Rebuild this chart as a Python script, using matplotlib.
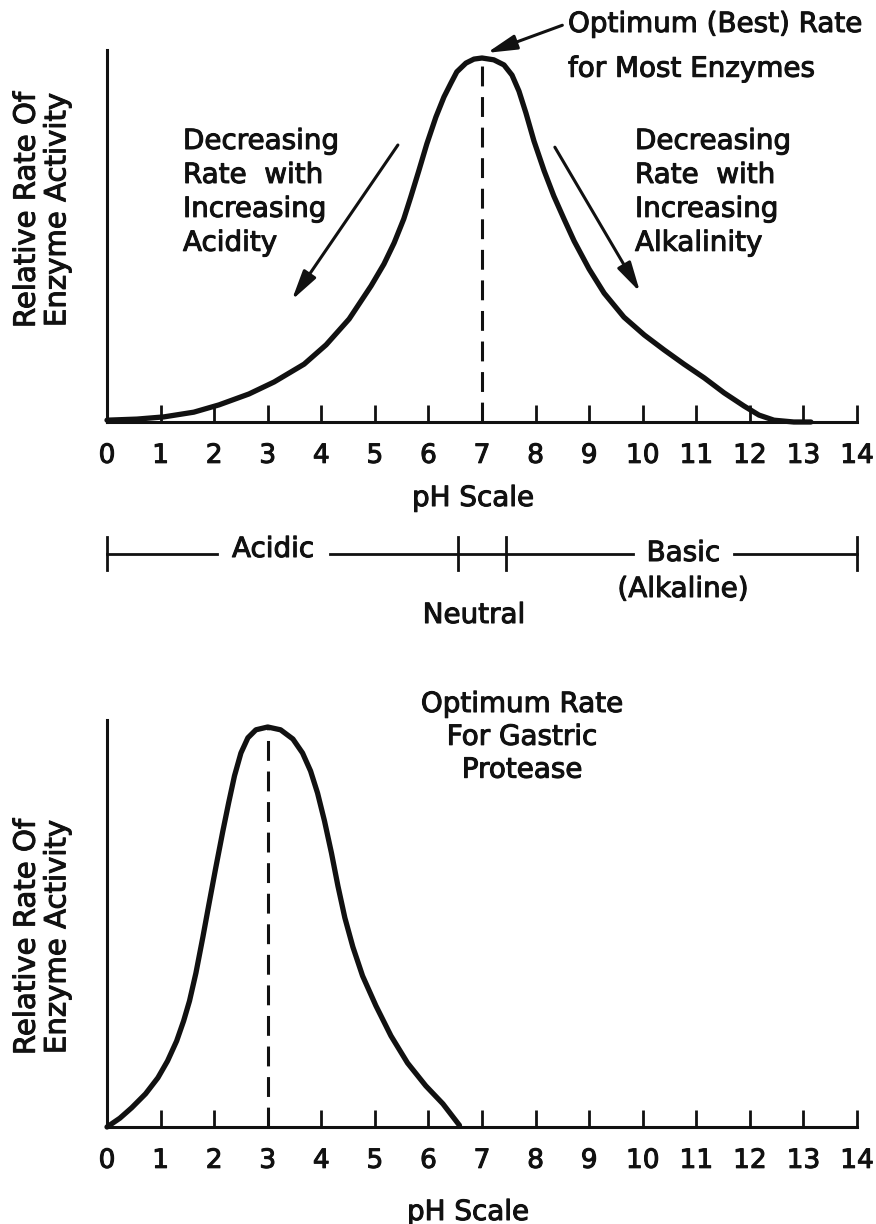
import matplotlib
matplotlib.use("Agg")
import matplotlib.pyplot as plt
import matplotlib.patheffects as pe
from matplotlib.transforms import blended_transform_factory

plt.rcParams["font.family"] = ["DejaVu Sans"]

# Activity of a typical enzyme across the pH scale (1.0 = optimum rate)
general_ph = [0.0, 0.56, 1.06, 1.62, 2.09, 2.65, 3.12, 3.68, 4.09, 4.52,
              4.93, 5.17, 5.36, 5.54, 5.67, 5.82, 5.97, 6.14, 6.29, 6.42,
              6.53, 6.70, 6.85, 7.0, 7.22, 7.41, 7.56, 7.69, 7.82, 7.97,
              8.16, 8.34, 8.53, 8.72, 9.0, 9.28, 9.65, 10.03, 10.4, 10.77,
              11.15, 11.52, 11.89, 12.17, 12.45, 12.82, 13.14]
general_rate = [0.005, 0.008, 0.014, 0.027, 0.047, 0.077, 0.110, 0.159, 0.212, 0.283,
                0.374, 0.434, 0.492, 0.558, 0.618, 0.690, 0.764, 0.838, 0.893, 0.931,
                0.962, 0.986, 0.997, 1.0, 0.995, 0.981, 0.953, 0.909, 0.849, 0.772,
                0.690, 0.621, 0.558, 0.497, 0.420, 0.354, 0.288, 0.239, 0.198, 0.159,
                0.121, 0.080, 0.044, 0.019, 0.005, 0.0, 0.0]
general_optimum = 7.0

# Activity of gastric protease across the pH scale
gastric_ph = [0.0, 0.24, 0.46, 0.72, 0.95, 1.13, 1.30, 1.43, 1.54, 1.66,
              1.79, 1.90, 2.03, 2.16, 2.27, 2.38, 2.50, 2.63, 2.78, 3.0,
              3.24, 3.47, 3.65, 3.80, 3.93, 4.06, 4.19, 4.31, 4.44, 4.59,
              4.77, 5.02, 5.30, 5.61, 5.95, 6.27, 6.58]
gastric_rate = [0.0, 0.022, 0.048, 0.083, 0.123, 0.165, 0.215, 0.265, 0.315, 0.385,
                0.475, 0.555, 0.648, 0.738, 0.810, 0.878, 0.935, 0.973, 0.993, 1.0,
                0.993, 0.970, 0.935, 0.890, 0.835, 0.765, 0.685, 0.603, 0.523, 0.450,
                0.378, 0.303, 0.228, 0.160, 0.103, 0.058, 0.004]
gastric_optimum = 3.0

ph_ticks = list(range(0, 15))
acid_limit = 6.55      # upper end of the acidic range
base_limit = 7.45      # lower end of the basic range

W, H = 876, 1224
fig = plt.figure(figsize=(W / 100, H / 100), dpi=100, facecolor="white")


def fx(px):
    return px / W


def fy(py):
    return 1 - py / H


INK = "#111111"
FS = 20
HEAVY = [pe.withStroke(linewidth=0.75, foreground=INK)]
TXT = dict(color=INK, fontsize=FS, path_effects=HEAVY)


def style_axes(ax):
    for side in ("top", "right"):
        ax.spines[side].set_visible(False)
    for side in ("left", "bottom"):
        ax.spines[side].set_linewidth(2.2)
        ax.spines[side].set_color(INK)
    ax.set_xlim(0, 14)
    ax.set_xticks(ph_ticks)
    ax.set_yticks([])
    ax.tick_params(axis="x", direction="in", length=12, width=2.0, colors=INK,
                   labelsize=19, pad=15)
    for lbl in ax.get_xticklabels():
        lbl.set_path_effects(HEAVY)
    ax.set_facecolor("none")


curve_kw = dict(color=INK, lw=3.8, solid_capstyle="round", solid_joinstyle="round",
                clip_on=False, zorder=3)
dash_kw = dict(color=INK, lw=2.2, ls=(0, (6.5, 3.5)), clip_on=False)

# ---------- upper panel: typical enzyme ----------
ax1 = fig.add_axes([fx(107), fy(422), fx(750), 372 / H])
style_axes(ax1)
ax1.set_ylim(0, 372 / 364)
ax1.plot(general_ph, general_rate, **curve_kw)
peak1 = general_rate[general_ph.index(general_optimum)]
ax1.plot([general_optimum, general_optimum], [0, peak1], **dash_kw)

fig.text(fx(473), fy(498), "pH Scale", ha="center", va="center", **TXT)
fig.text(fx(42), fy(210), "Relative Rate Of\nEnzyme Activity", rotation=90,
         ha="center", va="center", multialignment="center", linespacing=1.12,
         color=INK, fontsize=21, path_effects=HEAVY)

arrow_kw = dict(arrowstyle="-|>,head_length=1.8,head_width=0.45", color=INK, lw=2.2,
                mutation_scale=10, shrinkA=0, shrinkB=0)
ax1.annotate("", xy=(3.45, 0.335), xytext=(5.43, 0.761), arrowprops=arrow_kw,
             annotation_clip=False)
ax1.annotate("", xy=(9.95, 0.357), xytext=(8.36, 0.755), arrowprops=arrow_kw,
             annotation_clip=False)
ax1.annotate("", xy=(7.09, 1.014), xytext=(8.5, 1.09), arrowprops=arrow_kw,
             annotation_clip=False)

fig.text(fx(183), fy(127), "Decreasing\nRate  with\nIncreasing\nAcidity",
         ha="left", va="top", linespacing=1.27, **TXT)
fig.text(fx(635), fy(127), "Decreasing\nRate  with\nIncreasing\nAlkalinity",
         ha="left", va="top", linespacing=1.27, **TXT)
fig.text(fx(568), fy(10), "Optimum (Best) Rate\nfor Most Enzymes",
         ha="left", va="top", linespacing=1.76, **TXT)

# acidic / neutral / basic range bar
bar_tr = blended_transform_factory(ax1.transData, fig.transFigure)
bar_y = fy(554)
cap_lo, cap_hi = fy(570), fy(537)
bar_kw = dict(color=INK, lw=2.0, transform=bar_tr, clip_on=False)
ax1.plot([0, 2.05], [bar_y, bar_y], **bar_kw)
ax1.plot([4.16, 9.82], [bar_y, bar_y], **bar_kw)
ax1.plot([11.70, 14], [bar_y, bar_y], **bar_kw)
for xv in (0, acid_limit, base_limit, 14):
    ax1.plot([xv, xv], [cap_lo, cap_hi], **bar_kw)
ax1.text(3.1, fy(549), "Acidic", transform=bar_tr, ha="center", va="center", **TXT)
ax1.text(10.76, fy(553), "Basic", transform=bar_tr, ha="center", va="center", **TXT)
ax1.text(10.75, fy(589), "(Alkaline)", transform=bar_tr, ha="center", va="center", **TXT)
ax1.text((acid_limit + base_limit) / 2 - 0.15, fy(615), "Neutral", transform=bar_tr,
         ha="center", va="center", **TXT)

# ---------- lower panel: gastric protease ----------
ax2 = fig.add_axes([fx(107), fy(1127), fx(750), 407 / H])
style_axes(ax2)
ax2.set_ylim(0, 407 / 400)
ax2.plot(gastric_ph, gastric_rate, **curve_kw)
peak2 = gastric_rate[gastric_ph.index(gastric_optimum)]
ax2.plot([gastric_optimum, gastric_optimum], [0, peak2], **dash_kw)

fig.text(fx(468), fy(1212), "pH Scale", ha="center", va="center", **TXT)
fig.text(fx(42), fy(937), "Relative Rate Of\nEnzyme Activity", rotation=90,
         ha="center", va="center", multialignment="center", linespacing=1.12,
         color=INK, fontsize=21, path_effects=HEAVY)
fig.text(fx(522), fy(690), "Optimum Rate\nFor Gastric\nProtease",
         ha="center", va="top", multialignment="center", linespacing=1.22, **TXT)

fig.savefig("out.png", dpi=100, facecolor="white")
